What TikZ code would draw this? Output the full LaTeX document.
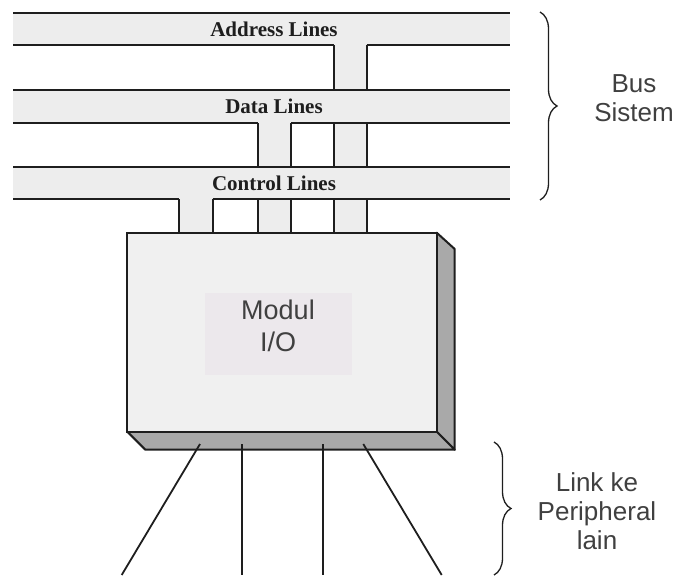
\documentclass[tikz,border=0pt]{standalone}
\usepackage{fontspec}
\setmainfont{Liberation Serif}
\setsansfont{Liberation Sans}
\usetikzlibrary{decorations.pathreplacing}

\definecolor{busgray}{HTML}{EDEDED}
\definecolor{boxgray}{HTML}{F0F0F0}
\definecolor{sidegray}{HTML}{A9A9A9}
\definecolor{labelgray}{HTML}{ECE8EC}
\definecolor{ink}{HTML}{1E1E1E}

\begin{document}
\begin{tikzpicture}[x=1pt, y=-1pt,
  busline/.style={ink, line width=2.2pt},
  buslabel/.style={font=\fontsize{21}{24}\selectfont\bfseries, text=ink, inner sep=0pt},
  sidetext/.style={font=\fontsize{26}{29}\selectfont\sffamily, align=center, text=ink!85},
  bracket/.style={ink, line width=1.3pt, decorate, decoration={brace, amplitude=17pt}}]

\useasboundingbox (0,0) rectangle (678,578);

%Stubs from the bus to the module (drawn first, bands go over them)
{
\foreach \l/\r/\t in {179.3/212.7/190, 257.7/291/110, 334.3/366.7/30}
{
\fill[busgray] (\l,\t) rectangle (\r,232);
\draw[busline] (\l,\t)--(\l,232);
\draw[busline] (\r,\t)--(\r,232);
}
}

%Bus bands
{
\foreach \t/\b/\gl/\gr/\txt/\n in {12.7/45/334.3/366.7/Address Lines/addr, 90/122.7/257.7/291/Data Lines/data, 166.7/199.3/179.3/212.7/Control Lines/ctrl}
{
\fill[busgray] (13,\t) rectangle (510,\b);
\draw[busline] (13,\t)--(510,\t);
\draw[busline] (13,\b)--(\gl,\b);
\draw[busline] (\gr,\b)--(510,\b);
\node[buslabel] (\n) at (274,{(\t+\b)/2}) {\txt};
}
}

%I/O module box
\draw[busline, line width=2pt, fill=sidegray, line join=round] (436.7,232.7) -- (454.7,249) -- (454.7,449.7) -- (436.7,431.7) -- cycle;
\draw[busline, line width=2pt, fill=sidegray, line join=round] (127.3,431.7) -- (436.7,431.7) -- (454.7,449.7) -- (145.3,449.7) -- cycle;
\draw[busline, line width=2pt, fill=boxgray] (127.3,232.7) rectangle (436.7,431.7);
\fill[labelgray] (205,293) rectangle (351.7,375);
\node[sidetext, font=\fontsize{27}{32}\selectfont\sffamily] (modul) at (278,326) {Modul\\I/O};

%Links to the peripherals
\foreach \xa/\xb in {200/121.7, 242.3/242.3, 323.3/323.3, 363.3/441.7}
\draw[busline, line width=1.8pt] (\xa,444) -- (\xb,575);

%Braces
\draw[bracket] (540,12) -- (540,200);
\node[sidetext] (bus) at (634,98) {Bus\\Sistem};

\draw[bracket] (494,442) -- (494,575);
\node[sidetext] (link) at (597,511) {Link ke\\Peripheral\\lain};

\end{tikzpicture}
\end{document}
